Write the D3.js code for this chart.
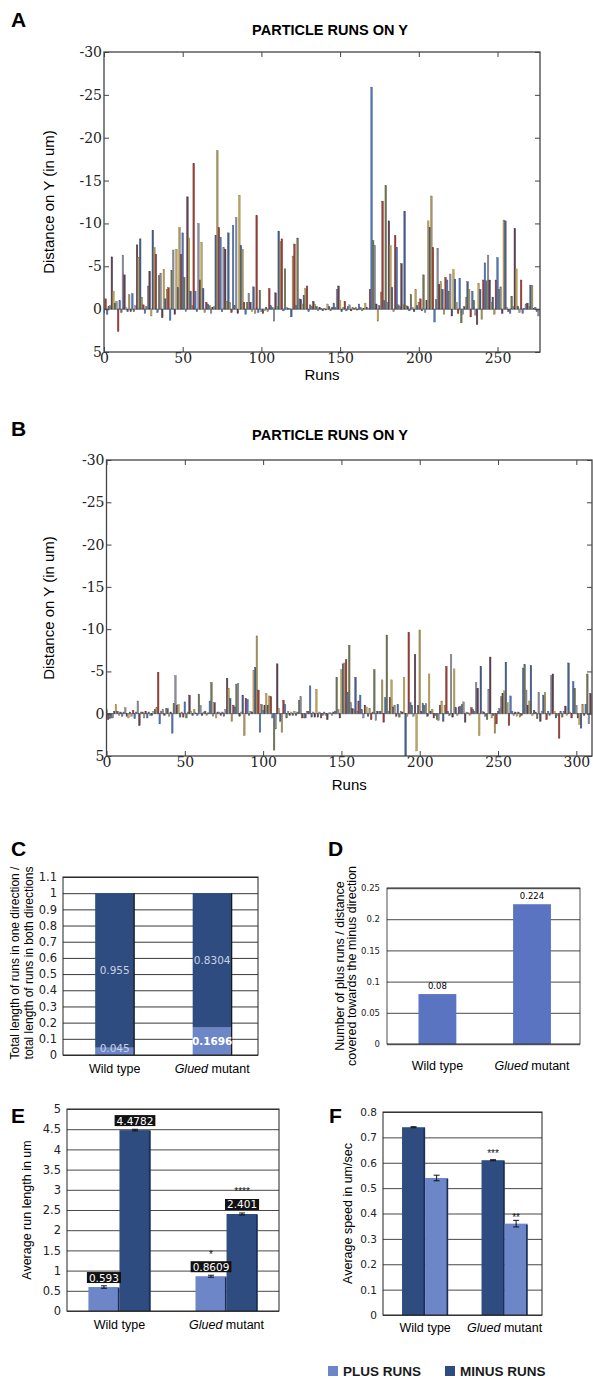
<!DOCTYPE html>
<html>
<head>
<meta charset="utf-8">
<script src="https://cdn.jsdelivr.net/npm/d3@7"></script>
<style>
  body { margin: 0; background: #fff; }
  svg { display: block; }
</style>
</head>
<body>
<svg id="fig" width="593" height="1378"></svg>
<script>
// ---- data ----
// A: distance on Y per run (negative = towards minus end, drawn upwards)
const runsA = [
  0.5, -1.2, 0.6, -0.3, -0.4, -6.1, -2.1, -0.7, -0.9, 2.6,
  -1.0, 0.4, -6.3, -4.0, -0.2, 0.3, -1.7, 0.3, -1.8, 0.3,
  -0.4, -7.5, -6.0, -8.2, -1.4, -0.5, 0.5, -0.3, -2.7, -4.4,
  0.8, -9.2, -7.2, -6.4, 0.4, -3.9, -4.2, 1.0, -4.6, -1.2,
  -2.3, -2.5, 1.3, -4.5, -6.9, 0.6, -7.0, -2.5, -9.5, -6.4,
  -8.9, -3.7, 0.3, -13.1, -8.3, -2.1, -0.4, -17.0, -2.1, 0.3,
  -10.0, -3.4, -7.8, -2.4, 0.4, -0.8, -0.6, -0.4, 0.5, -0.2,
  -0.3, -8.6, -18.5, -9.5, -8.4, 0.3, -7.2, -7.0, -0.9, -8.9,
  -0.8, 0.4, -9.8, -0.4, -10.7, 0.5, -13.3, -7.4, -7.0, -0.8,
  0.6, -0.8, -1.8, -0.8, 0.3, -2.6, 0.5, -10.9, 0.4, -2.2,
  0.3, 0.5, 0.2, -0.2, 0.3, -2.4, -0.4, -0.2, 1.4, -1.9,
  -0.3, -9.1, -7.9, -8.2, 0.2, -4.7, -0.2, -0.1, -0.1, 0.9,
  -6.2, -7.6, -0.4, -8.3, -1.2, -1.1, -0.6, -1.6, -2.4, -2.7,
  0.3, -0.5, -0.3, -0.9, -0.6, -0.3, 0.2, -0.2, -0.1, 0.2,
  -0.1, 0.1, -0.6, -0.3, 0.2, -0.2, -0.7, -0.2, -2.3, -2.7,
  -1.0, 0.3, -0.2, -0.9, 0.2, -0.3, -0.5, 0.2, -0.2, -0.1,
  -0.2, 0.1, -0.6, -0.2, 0.2, -0.1, -0.7, -0.2, -0.1, -2.3,
  -25.9, -8.0, -7.4, -0.6, 1.4, -0.4, -2.0, -12.6, -1.0, -14.4,
  -0.8, -10.3, -7.4, -2.5, 0.3, -8.6, -7.2, -0.5, -0.3, -5.3,
  -0.5, -11.4, -0.4, -0.3, 0.2, -1.7, -0.2, 0.3, -2.3, -0.4,
  -0.8, -1.2, 0.2, -4.0, 0.4, -1.0, -10.3, -9.5, -13.2, -7.2,
  1.5, -1.1, -7.1, -2.9, -3.2, -2.3, 0.6, -3.7, -3.4, -2.1,
  -4.1, 0.8, -4.6, -3.5, -0.8, 0.5, -3.6, 1.6, 0.6, -0.3,
  -1.4, -3.2, -2.3, 0.9, -2.1, -1.0, 0.7, 1.8, -3.0, -2.3,
  1.2, -3.4, -5.4, -3.3, -6.3, -3.4, -0.8, -1.4, 0.6, -3.4,
  -6.0, -2.3, -2.6, 0.5, -10.4, -10.3, -0.2, 0.3, 0.5, -1.5,
  -0.3, -9.4, -4.7, -0.3, 0.4, -3.4, 0.5, -0.1, -0.6, -0.7,
  -0.3, -2.8, -2.8, -0.1, -0.2, 0.3, 0.8
];

// B: same measure for the mutant
const runsB = [
  -0.5, 0.7, 0.6, 0.5, 0.5, -0.3, -1.1, -0.3, 0.2, -0.2,
  0.3, -0.2, -0.7, 0.3, 0.5, -0.2, 0.3, -0.4, 0.6, -0.2,
  -1.5, 1.4, -0.2, -0.2, 0.5, -0.3, 0.5, -0.2, 0.2, 0.2,
  -0.3, -0.5, -0.7, -4.9, 1.2, -0.3, -0.5, 0.2, -0.6, -0.6,
  0.3, -0.2, 2.3, -1.2, -4.5, -1.0, -1.1, 0.4, -0.2, 0.4,
  -1.4, 0.5, -0.2, -2.2, -0.3, 0.2, -0.5, -0.1, 0.2, -2.3,
  -1.0, 0.2, -0.2, -0.3, 0.2, -0.1, -1.5, -3.7, 0.3, -1.3,
  0.5, -0.2, -0.2, 0.2, -0.2, 0.3, -0.5, -4.2, -3.0, -1.8,
  0.9, -1.0, -0.8, -3.5, -3.6, 0.3, -0.2, -2.2, 2.6, -1.8,
  -1.7, 0.2, -0.3, -0.2, -5.1, -5.5, -9.2, -2.8, 2.2, -1.1,
  -0.4, -1.0, -2.4, -1.0, -2.1, -2.0, 0.5, 4.3, 1.8, -5.9,
  -0.6, 0.9, 2.2, -1.6, -1.1, 0.5, -0.3, 0.2, -0.2, 0.2,
  -0.3, 0.2, -0.2, -1.6, -2.0, 0.5, 0.5, 0.5, -0.3, -0.3,
  -3.3, 0.4, -0.2, 0.4, -2.9, 0.4, -0.2, 0.5, 0.2, -0.2,
  0.2, 0.7, -0.1, -0.1, 0.2, -0.2, -0.3, -4.3, -0.5, 0.5,
  -5.2, -5.9, -6.0, -6.4, -2.5, -8.1, -1.3, -0.6, -0.5, -4.3,
  -0.3, -1.5, -2.2, -0.5, 0.5, -1.0, -0.8, 0.3, -0.6, 0.7,
  -0.2, -5.2, 0.8, -0.3, -0.2, -0.3, -4.0, 1.0, -1.9, -9.3,
  -0.3, -1.9, -4.0, -0.8, -1.0, 0.3, -1.1, 0.4, -0.3, -0.2,
  -4.3, 5.0, 0.3, -9.6, -1.3, -1.0, 0.3, -7.0, 4.4, -1.0,
  -9.9, -0.3, -1.2, -1.0, -1.2, 0.3, -4.7, -0.3, -0.5, 0.5,
  0.2, 0.7, 0.8, -1.0, -1.5, 0.9, -1.0, -5.6, -0.3, 0.2,
  -7.0, 0.4, -5.3, -0.7, 0.2, -0.8, -0.9, -1.1, -1.4, 1.0,
  -0.2, -0.1, 0.2, -0.7, -0.5, -0.3, -3.7, -3.0, 2.6, -5.6,
  -0.3, -0.2, 0.3, 0.7, -2.9, -6.7, 0.5, 0.2, 2.3, 1.2,
  -0.3, -0.6, -2.0, -2.4, -2.7, -6.1, -1.3, 1.4, -2.1, -0.3,
  0.2, -0.2, 0.3, -0.2, 0.4, 0.2, -5.4, -5.8, -2.8, -1.0,
  -1.5, -5.7, 0.2, -0.4, -0.2, 0.6, -2.5, 0.9, -0.3, -2.2,
  -2.5, 0.7, -0.3, 0.2, -4.5, -4.7, -0.3, 0.5, 0.2, 2.9,
  -0.3, 0.4, -0.3, -0.9, 0.2, -6.0, -0.2, 0.5, -3.8, -3.0,
  -1.0, 0.5, 1.3, 1.7, -1.1, 0.2, -1.1, -4.7, 1.2, -2.4
];

const runTicksA = [0, 50, 100, 150, 200, 250];
const runTicksB = [0, 50, 100, 150, 200, 250, 300];
const distTicks = [-30, -25, -20, -15, -10, -5, 0, 5];

const groups = ["Wild type", "Glued mutant"];

// C: fraction of total run length
const ratioPlus = [0.045, 0.1696];
const ratioMinus = [0.955, 0.8304];

// D: plus runs / minus distance
const plusPerMinus = [0.08, 0.224];

// E: average run length (um)
const lengthPlus = [0.593, 0.8609];
const lengthMinus = [4.4782, 2.401];
const lengthPlusErr = [0.03, 0.025];
const lengthMinusErr = [0.02, 0.025];
const lengthPlusStars = ["", "*"];
const lengthMinusStars = ["", "****"];

// F: average speed (um/sec)
const speedMinus = [0.74, 0.61];
const speedPlus = [0.54, 0.36];
const speedMinusErr = [0.002, 0.002];
const speedPlusErr = [0.011, 0.013];
const speedMinusStars = ["", "***"];
const speedPlusStars = ["", "**"];

const legendNames = ["PLUS RUNS", "MINUS RUNS"];

// ---- styling ----
const barColors = ["#a89660", "#9a3f38", "#5275b5", "#6f7556", "#8c8c9c", "#5e4153", "#bca45c", "#475f8c"];
const plusColor = "#6c86c8";
const minusColor = "#2e4c80";
const sans = "'Liberation Sans', Arial, sans-serif";
const verd = "'DejaVu Sans', Verdana, sans-serif";
const serif = "'DejaVu Serif', serif";

var svg = d3.select("#fig");

function letter(txt, x, y) {
  svg.append("text").attr("x", x).attr("y", y)
    .attr("font-family", sans).attr("font-weight", "bold").attr("font-size", 21)
    .text(txt);
}

function noDomain(g) { g.select(".domain").remove(); }

// ---- panels A and B ----
function runsPanel(values, o) {
  var g = svg.append("g");
  var x = d3.scaleLinear().domain([0, o.xMax]).range([o.left, o.right]);
  var y = d3.scaleLinear().domain([-30, 5]).range([o.top, o.bottom]);

  g.append("text")
    .attr("x", o.titleX).attr("y", o.titleY)
    .attr("text-anchor", "middle")
    .attr("font-family", sans).attr("font-weight", "bold").attr("font-size", 14.5)
    .text("PARTICLE RUNS ON Y");

  var clip = "clip" + o.id;
  g.append("clipPath").attr("id", clip).append("rect")
    .attr("x", o.left).attr("y", o.top).attr("width", o.right - o.left).attr("height", o.bottom - o.top);

  g.append("line")
    .attr("x1", o.left).attr("x2", o.right)
    .attr("y1", y(0)).attr("y2", y(0))
    .attr("stroke", "#7fa9d8").attr("stroke-width", 1.2);

  g.append("g").attr("clip-path", "url(#" + clip + ")")
    .selectAll("rect").data(values).join("rect")
    .attr("x", (d, i) => x(i) - 0.8)
    .attr("width", 1.6)
    .attr("y", d => y(Math.min(0, d)))
    .attr("height", d => Math.max(0.8, Math.abs(y(d) - y(0))))
    .attr("fill", (d, i) => barColors[i % barColors.length])
    .attr("stroke", (d, i) => d3.color(barColors[i % barColors.length]).darker(0.8))
    .attr("stroke-width", 0.4);

  var fmt = d => String(d);
  g.append("g").attr("transform", "translate(" + o.left + ",0)")
    .call(d3.axisLeft(y).tickValues(distTicks).tickSize(-5).tickPadding(2).tickFormat(fmt))
    .call(noDomain)
    .call(a => a.selectAll("text").attr("font-family", serif).attr("font-size", 14).attr("fill", "#222"));
  g.append("g").attr("transform", "translate(" + o.right + ",0)")
    .call(d3.axisRight(y).tickValues(distTicks).tickSize(-5).tickFormat(""))
    .call(noDomain);
  g.append("g").attr("transform", "translate(0," + o.bottom + ")")
    .call(d3.axisBottom(x).tickValues(o.ticks).tickSize(-5).tickPadding(1).tickFormat(fmt))
    .call(noDomain)
    .call(a => a.selectAll("text").attr("font-family", serif).attr("font-size", 14).attr("fill", "#222"));
  g.append("g").attr("transform", "translate(0," + o.top + ")")
    .call(d3.axisTop(x).tickValues(o.ticks).tickSize(-5).tickFormat(""))
    .call(noDomain);
  g.selectAll(".tick line").attr("stroke", "#444");

  g.append("rect")
    .attr("x", o.left).attr("y", o.top)
    .attr("width", o.right - o.left).attr("height", o.bottom - o.top)
    .attr("fill", "none").attr("stroke", "#444").attr("stroke-width", 1.3);

  g.append("text")
    .attr("transform", "translate(" + o.yTitleX + "," + ((o.top + o.bottom) / 2) + ") rotate(-90)")
    .attr("text-anchor", "middle")
    .attr("font-family", sans).attr("font-size", 15)
    .text("Distance on Y (in um)");

  g.append("text")
    .attr("x", (o.left + o.right) / 2).attr("y", o.runsY)
    .attr("text-anchor", "middle")
    .attr("font-family", sans).attr("font-size", 15)
    .text("Runs");
}

letter("A", 11, 27);
runsPanel(runsA, { id: "A", left: 104, right: 540, top: 52, bottom: 352, xMax: 277,
  ticks: runTicksA, titleX: 330, titleY: 35, yTitleX: 54, runsY: 380 });

letter("B", 11, 436);
runsPanel(runsB, { id: "B", left: 106.5, right: 592, top: 460, bottom: 756, xMax: 310,
  ticks: runTicksB, titleX: 330, titleY: 440, yTitleX: 54, runsY: 790 });

// ---- helpers for the small bar charts ----
function gridAxis(g, y, left, right, ticks, fmt, o) {
  g.append("g").attr("transform", "translate(" + left + ",0)")
    .call(d3.axisLeft(y).tickValues(ticks).tickSize(-(right - left)).tickPadding(o.pad).tickFormat(fmt))
    .call(noDomain)
    .call(a => a.selectAll("line").attr("stroke", o.grid).attr("stroke-width", o.gridW))
    .call(a => a.selectAll("text").attr("font-family", verd).attr("font-size", o.fs).attr("fill", "#222"));
}

function frame(g, left, right, top, bottom, w) {
  g.append("rect").attr("x", left).attr("y", top)
    .attr("width", right - left).attr("height", bottom - top)
    .attr("fill", "none").attr("stroke", "#222").attr("stroke-width", w);
}

function groupLabels(g, xs, y, fs) {
  groups.forEach((name, i) => {
    var t = g.append("text").attr("x", xs[i]).attr("y", y)
      .attr("text-anchor", "middle").attr("font-family", sans).attr("font-size", fs);
    if (name.indexOf("Glued") === 0) {
      t.append("tspan").attr("font-style", "italic").text("Glued");
      t.append("tspan").text(" mutant");
    } else {
      t.text(name);
    }
  });
}

function yTitle(g, lines, x, y, fs, gap) {
  lines.forEach((s, i) => {
    g.append("text")
      .attr("transform", "translate(" + (x + i * gap) + "," + y + ") rotate(-90)")
      .attr("text-anchor", "middle").attr("font-family", sans).attr("font-size", fs)
      .text(s);
  });
}

var fmt1 = d => String(+d.toFixed(2));

// ---- C ----
letter("C", 11, 856);
(function () {
  var g = svg.append("g");
  var left = 63, right = 258, top = 877, bottom = 1055;
  var x = d3.scaleBand().domain(groups).range([left, right]).paddingInner(0.6).paddingOuter(0.3).align(0.55);
  var y = d3.scaleLinear().domain([0, 1.1]).range([bottom, top]);
  gridAxis(g, y, left, right, d3.range(0, 11.5).map(d => d / 10), fmt1,
    { pad: 6, grid: "#222", gridW: 0.9, fs: 11.5 });

  g.selectAll(".plus").data(ratioPlus).join("rect").attr("class", "plus")
    .attr("x", (d, i) => x(groups[i])).attr("width", x.bandwidth())
    .attr("y", d => y(d)).attr("height", d => y(0) - y(d))
    .attr("fill", plusColor);
  g.selectAll(".minus").data(ratioMinus).join("rect").attr("class", "minus")
    .attr("x", (d, i) => x(groups[i])).attr("width", x.bandwidth())
    .attr("y", (d, i) => y(d + ratioPlus[i])).attr("height", (d, i) => y(ratioPlus[i]) - y(d + ratioPlus[i]))
    .attr("fill", minusColor);
  g.selectAll(".sep").data(groups).join("line").attr("class", "sep")
    .attr("x1", d => x(d) + x.bandwidth()).attr("x2", d => x(d) + x.bandwidth())
    .attr("y1", y(1)).attr("y2", y(0)).attr("stroke", "#111").attr("stroke-width", 1.2);

  g.selectAll(".lm").data(ratioMinus).join("text").attr("class", "lm")
    .attr("x", (d, i) => x(groups[i]) + x.bandwidth() / 2)
    .attr("y", (d, i) => y(ratioPlus[i] + d / 2) + 4)
    .attr("text-anchor", "middle").attr("font-family", verd).attr("font-size", 10.5)
    .attr("fill", "#c9d1e2").text(d => String(d));
  g.selectAll(".lp").data(ratioPlus).join("text").attr("class", "lp")
    .attr("x", (d, i) => x(groups[i]) + x.bandwidth() / 2)
    .attr("y", (d, i) => i === 0 ? y(0) - 3 : y(d / 2) + 4)
    .attr("text-anchor", "middle").attr("font-family", verd).attr("font-size", 10.5)
    .attr("font-weight", (d, i) => i === 1 ? "bold" : "normal")
    .attr("fill", (d, i) => i === 1 ? "#ffffff" : "#c9d1e2").text(d => String(d));

  frame(g, left, right, top, bottom, 1);
  groupLabels(g, groups.map(d => x(d) + x.bandwidth() / 2), 1073, 12.5);
  yTitle(g, ["Total length of runs in one direction /", "total length of runs in both directions"], 19, 963, 12, 14);
})();

// ---- D ----
letter("D", 328, 856);
(function () {
  var g = svg.append("g");
  var left = 387, right = 580, top = 888, bottom = 1044;
  var x = d3.scaleBand().domain(groups).range([left, right]).paddingInner(0.6).paddingOuter(0.32).align(0.52);
  var y = d3.scaleLinear().domain([0, 0.25]).range([bottom, top]);
  gridAxis(g, y, left, right, [0, 0.05, 0.1, 0.15, 0.2, 0.25], fmt1,
    { pad: 7, grid: "#6d6d6d", gridW: 1.3, fs: 8.5 });

  g.selectAll(".bar").data(plusPerMinus).join("rect").attr("class", "bar")
    .attr("x", (d, i) => x(groups[i])).attr("width", x.bandwidth())
    .attr("y", d => y(d)).attr("height", d => y(0) - y(d))
    .attr("fill", "#5b74c2");
  g.selectAll(".val").data(plusPerMinus).join("text").attr("class", "val")
    .attr("x", (d, i) => x(groups[i]) + x.bandwidth() / 2)
    .attr("y", d => y(d) - 5)
    .attr("text-anchor", "middle").attr("font-family", verd).attr("font-size", 8.5)
    .text(d => String(d));

  frame(g, left, right, top, bottom, 0.8);
  groupLabels(g, groups.map(d => x(d) + x.bandwidth() / 2), 1070, 12.5);
  yTitle(g, ["Number of plus runs / distance", "covered towards the minus direction"], 344, 966, 12.5, 12);
})();

// ---- grouped bars with error bars (E, F) ----
function pairChart(o) {
  var g = svg.append("g");
  var x = d3.scaleBand().domain(groups).range([o.left, o.right]).paddingInner(0.42).paddingOuter(o.outer).align(o.align);
  var sub = d3.scaleBand().domain(o.order).range([0, x.bandwidth()]);
  var y = d3.scaleLinear().domain([0, o.max]).range([o.bottom, o.top]);
  gridAxis(g, y, o.left, o.right, o.ticks, fmt1, { pad: 6, grid: "#333", gridW: 0.9, fs: o.fs });

  var series = { plus: { v: o.plus, e: o.plusErr, s: o.plusStars, c: plusColor },
                 minus: { v: o.minus, e: o.minusErr, s: o.minusStars, c: minusColor } };
  var marks = g.append("g");
  o.order.forEach(k => {
    var s = series[k];
    var gx = i => x(groups[i]) + sub(k);
    marks.selectAll(".b" + k).data(s.v).join("rect").attr("class", "b" + k)
      .attr("x", (d, i) => gx(i)).attr("width", sub.bandwidth())
      .attr("y", d => y(d)).attr("height", d => y(0) - y(d))
      .attr("fill", s.c);
    // little shade on the right side
    marks.selectAll(".r" + k).data(s.v).join("line").attr("class", "r" + k)
      .attr("x1", (d, i) => gx(i) + sub.bandwidth() - 0.8).attr("x2", (d, i) => gx(i) + sub.bandwidth() - 0.8)
      .attr("y1", d => y(d) + 1).attr("y2", y(0))
      .attr("stroke", "#1d2f55").attr("stroke-width", 1.6);
  });

  var notes = g.append("g");
  o.order.forEach(k => {
    var s = series[k];
    var gx = i => x(groups[i]) + sub(k);
    s.v.forEach((d, i) => {
      var cx = gx(i) + sub.bandwidth() / 2;
      var y1 = y(d + s.e[i]), y2 = y(d - s.e[i]);
      notes.append("path")
        .attr("d", "M" + (cx - 3) + "," + y1 + "H" + (cx + 3) + "M" + cx + "," + y1 + "V" + y2 + "M" + (cx - 3) + "," + y2 + "H" + (cx + 3))
        .attr("stroke", "#111").attr("stroke-width", 1).attr("fill", "none");
      var lab = o.labels ? o.labels[k][i] : null;
      var starBase = y(d) - 3;
      if (lab) {
        var box = notes.append("rect").attr("fill", "#111");
        var t = notes.append("text").attr("x", cx).attr("y", y(d) - 5.5)
          .attr("text-anchor", "middle").attr("font-family", verd).attr("font-size", 10.5)
          .attr("fill", "#fff").text(lab);
        var w = t.node().getComputedTextLength();
        box.attr("x", cx - w / 2 - 2).attr("y", y(d) - 15).attr("width", w + 4).attr("height", 11);
        starBase = y(d) - 18.5;
      }
      if (s.s[i]) {
        notes.append("text").attr("x", cx).attr("y", starBase)
          .attr("text-anchor", "middle").attr("font-family", sans).attr("font-size", 10)
          .attr("fill", "#111").text(s.s[i]);
      }
    });
  });

  frame(g, o.left, o.right, o.top, o.bottom, 1);
  groupLabels(g, groups.map(d => x(d) + x.bandwidth() / 2), o.labelY, 12.5);
  yTitle(g, [o.title], o.titleX, (o.top + o.bottom) / 2, 12.5, 0);
}

letter("E", 11, 1123);
pairChart({ left: 67, right: 279, top: 1109, bottom: 1311, max: 5, outer: 0.2, align: 0.5,
  ticks: d3.range(0, 10.5).map(d => d / 2), fs: 11.5,
  order: ["plus", "minus"],
  plus: lengthPlus, minus: lengthMinus, plusErr: lengthPlusErr, minusErr: lengthMinusErr,
  plusStars: lengthPlusStars, minusStars: lengthMinusStars,
  labels: { plus: lengthPlus.map(String), minus: lengthMinus.map(String) },
  labelY: 1329, title: "Average run length in um", titleX: 31 });

letter("F", 329, 1123);
pairChart({ left: 383, right: 542, top: 1112, bottom: 1315, max: 0.8, outer: 0.21, align: 0.57,
  ticks: d3.range(0, 8.5).map(d => d / 10), fs: 10.5,
  order: ["minus", "plus"],
  plus: speedPlus, minus: speedMinus, plusErr: speedPlusErr, minusErr: speedMinusErr,
  plusStars: speedPlusStars, minusStars: speedMinusStars,
  labels: null, labelY: 1332, title: "Average speed in um/sec", titleX: 352 });

// ---- legend ----
var leg = svg.append("g");
var legX = [328, 445];
legendNames.forEach((name, i) => {
  leg.append("rect").attr("x", legX[i]).attr("y", 1366).attr("width", 10).attr("height", 10)
    .attr("fill", i === 0 ? plusColor : minusColor);
  leg.append("text").attr("x", legX[i] + 15).attr("y", 1376)
    .attr("font-family", sans).attr("font-weight", "bold").attr("font-size", 13.5)
    .attr("fill", "#1a1a1a").text(name);
});
</script>
</body>
</html>
